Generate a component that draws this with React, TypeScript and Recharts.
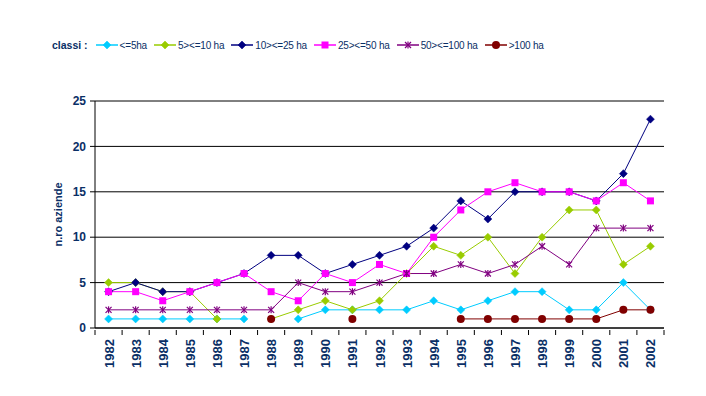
import React from 'react';
import { LineChart, Line, XAxis, YAxis, CartesianGrid, Legend } from 'recharts';

const years = ['1982','1983','1984','1985','1986','1987','1988','1989','1990','1991','1992','1993','1994','1995','1996','1997','1998','1999','2000','2001','2002'];
const le5 = [1,1,1,1,1,1,null,1,2,2,2,2,3,2,3,4,4,2,2,5,2];
const s5to10 = [5,5,4,4,1,null,1,2,3,2,3,6,9,8,10,6,10,13,13,7,9];
const s10to25 = [4,5,4,4,5,6,8,8,6,7,8,9,11,14,12,15,15,15,14,17,23];
const s25to50 = [4,4,3,4,5,6,4,3,6,5,7,6,10,13,15,16,15,15,14,16,14];
const s50to100 = [2,2,2,2,2,2,2,5,4,4,5,6,6,7,6,7,9,7,11,11,11];
const gt100 = [null,null,null,null,null,null,1,null,null,1,null,null,null,1,1,1,1,1,1,2,2];
const yTicks = [0,5,10,15,20,25];

const seriesNames = ['<=5ha','5><=10 ha','10><=25 ha','25><=50 ha','50><=100 ha','>100 ha'];
const seriesKeys = ['a','b','c','d','e','f'];
const seriesColors = ['#00CCFF','#99CC00','#000080','#FF00FF','#800080','#800000'];
const seriesShapes = ['diamond','diamond','diamond','square','star','circle'];

const data = years.map((y, i) => ({
  year: y,
  a: le5[i], b: s5to10[i], c: s10to25[i], d: s25to50[i], e: s50to100[i], f: gt100[i],
}));

const TEXT = '#0A2F66';
const FONT = '"Liberation Sans", Arial, sans-serif';

function Marker({ shape, cx, cy, color }: any) {
  if (cx == null || cy == null) return null;
  if (shape === 'diamond') {
    return <polygon points={`${cx},${cy-4} ${cx+4},${cy} ${cx},${cy+4} ${cx-4},${cy}`} fill={color} stroke={color} strokeWidth={0.5} />;
  }
  if (shape === 'square') {
    return <rect x={cx-3.5} y={cy-3.5} width={7} height={7} fill={color} />;
  }
  if (shape === 'circle') {
    return <circle cx={cx} cy={cy} r={4} fill={color} />;
  }
  return (
    <g stroke={color} strokeWidth={1.2}>
      <line x1={cx-3} y1={cy-3} x2={cx+3} y2={cy+3} />
      <line x1={cx-3} y1={cy+3} x2={cx+3} y2={cy-3} />
      <line x1={cx} y1={cy-3.5} x2={cx} y2={cy+3.5} />
    </g>
  );
}

const makeDot = (shape: string, color: string) => (props: any) => {
  const { cx, cy, value, key } = props;
  if (value == null) return <g key={key} />;
  return <g key={key}><Marker shape={shape} cx={cx} cy={cy} color={color} /></g>;
};

const HALF = 13.55;
function XTick(props: any) {
  const { x, y, index } = props;
  return (
    <g>
      <line x1={x - HALF} y1={y} x2={x - HALF} y2={y + 5} stroke="#000" />
      {index === years.length - 1 && <line x1={x + HALF} y1={y} x2={x + HALF} y2={y + 5} stroke="#000" />}
      <text x={x + 5} y={y + 9} transform={`rotate(-90, ${x + 5}, ${y + 9})`} textAnchor="end"
        fill={TEXT} fontFamily={FONT} fontWeight="bold" fontSize={13}>{props.payload.value}</text>
    </g>
  );
}

function LegendContent() {
  return (
    <div style={{ display: 'flex', alignItems: 'center', fontFamily: FONT, color: TEXT, whiteSpace: 'nowrap' }}>
      <span style={{ fontWeight: 'bold', fontSize: 10.5, marginRight: 8 }}>classi :</span>
      {seriesNames.map((n, i) => (
        <span key={n} style={{ display: 'flex', alignItems: 'center', marginRight: 7 }}>
          <svg width={22} height={10} style={{ marginRight: 2 }}>
            <line x1={0} y1={5} x2={22} y2={5} stroke={seriesColors[i]} strokeWidth={1.5} />
            <Marker shape={seriesShapes[i]} cx={11} cy={5} color={seriesColors[i]} />
          </svg>
          <span style={{ fontSize: 10, letterSpacing: -0.2 }}>{n}</span>
        </span>
      ))}
    </div>
  );
}

export default function App() {
  return (
    <div style={{ position: 'absolute', left: 0, top: 0, width: 706, height: 396, background: '#fff' }}>
      <LineChart width={706} height={396} data={data} margin={{ top: 101, right: 42, bottom: 0, left: 0 }}>
        <CartesianGrid vertical={false} stroke="#000" strokeWidth={1} />
        <XAxis dataKey="year" height={68} interval={0} padding={{ left: HALF, right: HALF }}
          axisLine={{ stroke: '#000' }} tickLine={false} tickSize={0} tick={<XTick />} />
        <YAxis width={95} domain={[0, 25]} ticks={yTicks} interval={0} axisLine={{ stroke: '#000' }}
          tickLine={{ stroke: '#000' }} tickSize={5} tickMargin={4}
          tick={{ fill: TEXT, fontFamily: FONT, fontWeight: 'bold', fontSize: 12 }}
          label={{
            content: (p: any) => {
              const vb = p.viewBox;
              const cx = 62, cy = vb.y + vb.height / 2;
              return <text x={cx} y={cy} transform={`rotate(-90, ${cx}, ${cy})`} textAnchor="middle"
                fill={TEXT} fontFamily={FONT} fontWeight="bold" fontSize={11}>n.ro aziende</text>;
            },
          }} />
        <Legend layout="horizontal" verticalAlign="middle" align="center" content={<LegendContent />}
          wrapperStyle={{ position: 'absolute', top: 39, left: 52, width: 'auto', height: 'auto' }} />
        {seriesKeys.map((k, i) => (
          <Line key={k} dataKey={k} name={seriesNames[i]} stroke={seriesColors[i]} strokeWidth={1}
            isAnimationActive={false} dot={makeDot(seriesShapes[i], seriesColors[i])} activeDot={false} />
        ))}
      </LineChart>
    </div>
  );
}
